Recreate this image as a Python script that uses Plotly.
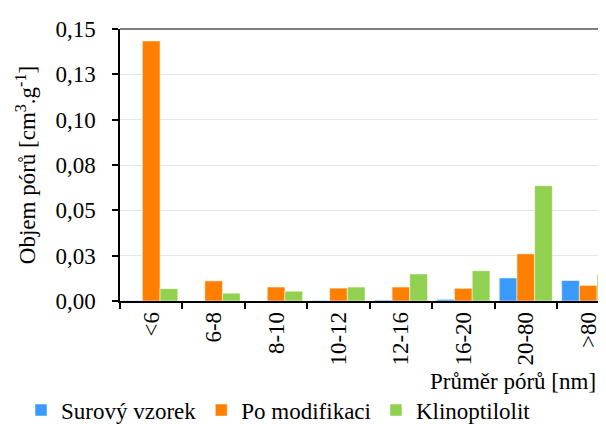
import plotly.graph_objects as go

categories = ["<6", "6-8", "8-10", "10-12", "12-16", "16-20", "20-80", ">80"]
surovy_vzorek = [0.0002, 0.0, 0.0, 0.0003, 0.0005, 0.0009, 0.0127, 0.0113]
po_modifikaci = [0.1434, 0.0111, 0.0077, 0.0071, 0.0077, 0.0070, 0.0260, 0.0086]
klinoptilolit = [0.0068, 0.0043, 0.0054, 0.0077, 0.0149, 0.0167, 0.0636, 0.0145]
series_names = ["Surový vzorek", "Po modifikaci", "Klinoptilolit"]
series_colors = ["#3A9BFC", "#FF8000", "#92D050"]
y_tick_values = [0, 0.025, 0.05, 0.075, 0.1, 0.125, 0.15]
y_tick_labels = ["0,00", "0,03", "0,05", "0,08", "0,10", "0,13", "0,15"]

FONT = "'Liberation Serif', 'Times New Roman', 'DejaVu Serif', serif"
FS = 23

fig = go.Figure()
for name, vals, col in zip(series_names, [surovy_vzorek, po_modifikaci, klinoptilolit], series_colors):
    fig.add_trace(go.Bar(
        x=categories, y=vals, name=name,
        marker=dict(color=col, line=dict(color="rgba(255,255,255,0.5)", width=1)),
    ))

fig.update_layout(
    width=606, height=424,
    margin=dict(l=112, r=0, t=21, b=124),
    paper_bgcolor="white", plot_bgcolor="white",
    barmode="group", bargap=0.15, bargroupgap=0,
    font=dict(family=FONT, size=FS, color="black"),
    showlegend=True,
    legend=dict(
        orientation="h", x=-0.2004, xanchor="left", y=-0.401, yanchor="middle",
        font=dict(family=FONT, size=FS, color="black"),
        bgcolor="rgba(0,0,0,0)", itemclick=False,
    ),
    xaxis=dict(
        type="category", range=[-0.5, 7.413], automargin=False,
        showline=True, linecolor="black", linewidth=1.5,
        ticks="outside", tickson="boundaries", ticklen=6, tickcolor="black", tickwidth=1.5,
        tickangle=-90, showgrid=False,
        tickfont=dict(family=FONT, size=FS, color="black"),
    ),
    yaxis=dict(
        range=[0, 0.15], tickvals=y_tick_values, ticktext=y_tick_labels, automargin=False,
        showline=True, linecolor="black", linewidth=1.5,
        ticks="outside", ticklen=6, tickcolor="black", tickwidth=1.5,
        showgrid=True, gridcolor="#E6E6E6", gridwidth=1,
        zeroline=False,
        tickfont=dict(family=FONT, size=FS, color="black"),
        ticklabelstandoff=12,
        title=dict(text="Objem pórů [cm<sup>3</sup>.g<sup>-1</sup>]",
                   font=dict(family=FONT, size=FS, color="black"), standoff=13),
    ),
    shapes=[dict(type="line", xref="paper", yref="paper", x0=0, x1=1, y0=1, y1=1,
                 line=dict(color="#555555", width=1.5))],
    annotations=[dict(text="Průměr pórů [nm]", xref="paper", yref="paper",
                      x=0.9676, y=-0.2975, xanchor="right", yanchor="middle",
                      showarrow=False, font=dict(family=FONT, size=FS, color="black"))],
)

fig.write_html("out.html")
